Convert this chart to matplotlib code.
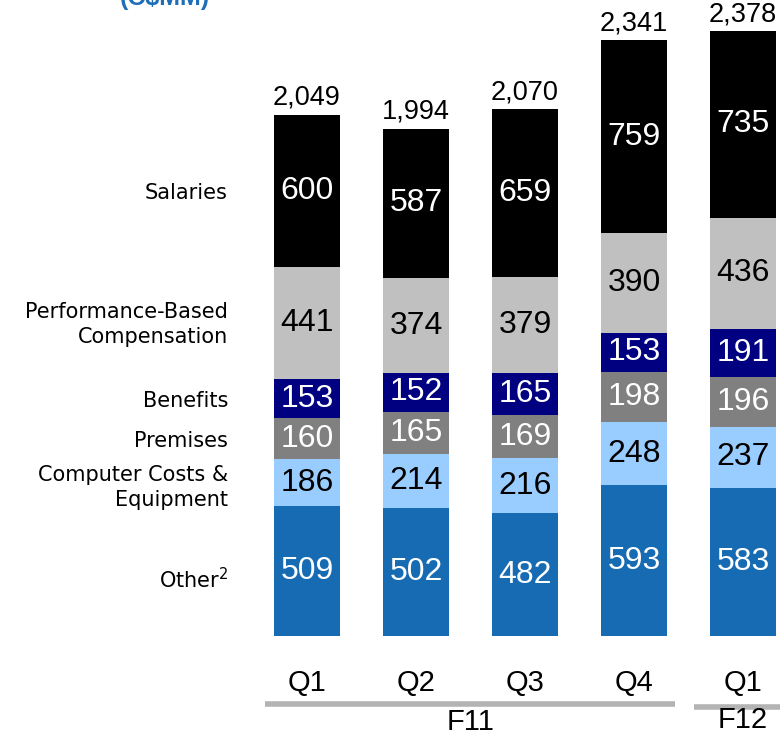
import numpy as np
import matplotlib.pyplot as plt

# Expense breakdown by quarter (C$MM)
quarters = ['Q1', 'Q2', 'Q3', 'Q4', 'Q1']
categories = ['Other$^2$', 'Computer Costs &\nEquipment', 'Premises', 'Benefits',
              'Performance-Based\nCompensation', 'Salaries']
other = [509, 502, 482, 593, 583]
computer = [186, 214, 216, 248, 237]
premises = [160, 165, 169, 198, 196]
benefits = [153, 152, 165, 153, 191]
perf_comp = [441, 374, 379, 390, 436]
salaries = [600, 587, 659, 759, 735]
totals = [2049, 1994, 2070, 2341, 2378]
years = ['F11', 'F12']

series = [other, computer, premises, benefits, perf_comp, salaries]
colors = ['#176BB2', '#99CCFF', '#808080', '#000080', '#C0C0C0', '#000000']
text_colors = ['white', 'black', 'white', 'white', 'black', 'white']

# layout: pixels of the 780x736 picture -> data units
px_per_unit = 0.2545
pitch = 109.0
base_px = 636
x0_px = 307

fig = plt.figure(figsize=(7.8, 7.36), dpi=100)
ax = fig.add_axes([0, 0, 1, 1])
ax.set_xlim(-x0_px / pitch, (780 - x0_px) / pitch)
ax.set_ylim(-(736 - base_px) / px_per_unit, base_px / px_per_unit)
ax.axis('off')

x = np.arange(len(quarters))
bottom = np.zeros(len(quarters))
for vals, col, tcol in zip(series, colors, text_colors):
    vals = np.array(vals)
    ax.bar(x, vals, bottom=bottom, width=0.605, color=col)
    for xi, b, v in zip(x, bottom, vals):
        ax.text(xi, b + v / 2, str(v), ha='center', va='center', color=tcol,
                fontsize=23, family='Liberation Sans')
    bottom += vals

for xi, t in zip(x, totals):
    ax.annotate(f'{t:,}', (xi, t), xytext=(0, 7), textcoords='offset points',
                ha='center', va='baseline', fontsize=19.5, family='Liberation Sans')

# category labels on the left, lined up with the first bar's segments
q1_vals = [s[0] for s in series]
q1_centers = np.cumsum(q1_vals) - np.array(q1_vals) / 2
label_shift = [-32, -20, -8, -10, -6, -8]
for name, yc, sh in zip(categories, q1_centers, label_shift):
    ax.text(-0.725, yc + sh, name, ha='right', va='center', fontsize=15,
            family='DejaVu Sans', linespacing=1.3)

# quarter labels and fiscal year brackets
for xi, q in zip(x, quarters):
    ax.text(xi, -184, q, ha='center', va='center', fontsize=21, family='Liberation Sans')

ax.plot([-0.385, 3.376], [-267, -267], color='#B3B3B3', lw=4, solid_capstyle='butt')
ax.plot([3.55, 4.6], [-278, -278], color='#B3B3B3', lw=4, solid_capstyle='butt')
ax.text(1.5, -337, years[0], ha='center', va='center', fontsize=21, family='Liberation Sans')
ax.text(4.0, -330, years[1], ha='center', va='center', fontsize=21, family='Liberation Sans')

fig.text(165 / 780, 1 - 5 / 736, '(C$MM)', ha='center', va='baseline', color='#1F6FB8',
         fontsize=18, fontweight='bold', family='Liberation Sans')

fig.savefig('out.png', dpi=100)
